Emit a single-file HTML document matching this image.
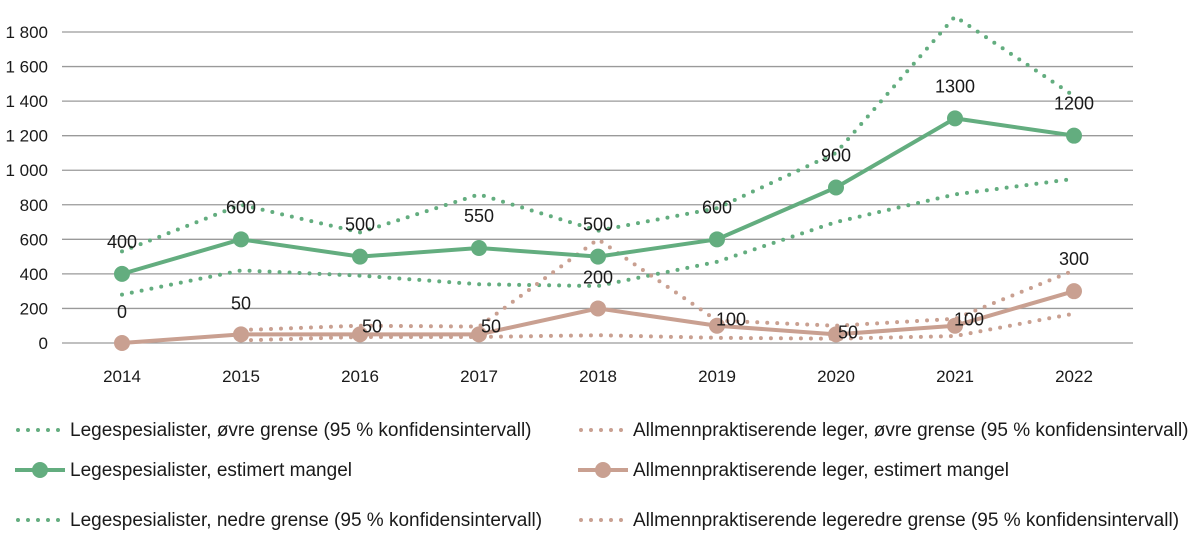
<!DOCTYPE html>
<html><head><meta charset="utf-8"><style>
body{margin:0;background:#fff;font-family:"Liberation Sans",sans-serif}
svg text{font-family:"Liberation Sans",sans-serif;fill:#1a1a1a}
</style></head><body>
<svg id="c" width="1200" height="546"></svg>
<script>
const years=[2014,2015,2016,2017,2018,2019,2020,2021,2022];
const yTicks=[0,200,400,600,800,1000,1200,1400,1600,1800];
const yTickLabels=["0","200","400","600","800","1 000","1 200","1 400","1 600","1 800"];
const specUpper=[530,800,640,860,650,780,1100,1890,1430];
const specEst=[400,600,500,550,500,600,900,1300,1200];
const specLower=[280,420,390,340,330,470,700,860,950];
const gpUpper=[null,75,100,95,600,130,100,140,420];
const gpEst=[0,50,50,50,200,100,50,100,300];
const gpLower=[null,15,35,35,45,30,25,40,170];
const specLabels=["400","600","500","550","500","600","900","1300","1200"];
const gpLabels=["0","50","50","50","200","100","50","100","300"];
const gpLabelDx=[0,0,12,12,0,14,12,14,0];
const gpLabelDy=[-31,-31,-8,-8,-31,-6,-2,-6,-32];
const G="#63ad7f",B="#c9a091";
const svg=document.getElementById('c');const NS="http://www.w3.org/2000/svg";
const x=i=>122+i*119;const y=v=>343-v*(311/1800);
function mk(t,a,p){const e=document.createElementNS(NS,t);for(const k in a)e.setAttribute(k,a[k]);(p||svg).appendChild(e);return e;}
yTicks.forEach((t,i)=>{
 const l=mk('line',{x1:62,x2:1133,y1:y(t),y2:y(t),stroke:'#9a9a9a','stroke-width':1.3});
 
 
 const tx=mk('text',{x:48,y:y(t)+6,'text-anchor':'end','font-size':17});tx.textContent=yTickLabels[i];
 
 
});
years.forEach((yr,i)=>{const t=mk('text',{x:x(i),y:382,'text-anchor':'middle','font-size':17});t.textContent=yr;
 
 });
function line(vals,col,dotted,name){
 const pts=[];vals.forEach((v,i)=>{if(v!==null)pts.push(x(i)+','+y(v));});
 const a={points:pts.join(' '),fill:'none',stroke:col};
 if(dotted){a['stroke-width']=4;a['stroke-dasharray']='0 10';a['stroke-linecap']='round';}else a['stroke-width']=4;
 const p=mk('polyline',a);
 
 
}
line(specUpper,G,true,'spec-upper-line');line(specLower,G,true,'spec-lower-line');
line(gpUpper,B,true,'gp-upper-line');line(gpLower,B,true,'gp-lower-line');
line(specEst,G,false,'spec-estimate-line');line(gpEst,B,false,'gp-estimate-line');
function markers(vals,col,labels,dx,dy,name){vals.forEach((v,i)=>{
 const c=mk('circle',{cx:x(i),cy:y(v),r:8,fill:col});
 
 
 const t=mk('text',{x:x(i)+(dx?dx[i]:0),y:y(v)+(dy?dy[i]:-32)+6,'text-anchor':'middle','font-size':18});t.textContent=labels[i];
 
 
});}
markers(specEst,G,specLabels,null,null,'spec');
markers(gpEst,B,gpLabels,gpLabelDx,gpLabelDy,'gp');
const leg=[
 [15,430,G,'dot','Legespesialister, øvre grense (95 % konfidensintervall)'],
 [15,470,G,'marker','Legespesialister, estimert mangel'],
 [15,520,G,'dot','Legespesialister, nedre grense (95 % konfidensintervall)'],
 [578,430,B,'dot','Allmennpraktiserende leger, øvre grense (95 % konfidensintervall)'],
 [578,470,B,'marker','Allmennpraktiserende leger, estimert mangel'],
 [578,520,B,'dot','Allmennpraktiserende legeredre grense (95 % konfidensintervall)']];
leg.forEach(l=>{
 const g=mk('g',{});
 
 
 if(l[3]==='dot')mk('line',{x1:l[0]+3,x2:l[0]+45,y1:l[1],y2:l[1],stroke:l[2],'stroke-width':4,'stroke-dasharray':'0 10','stroke-linecap':'round'},g);
 else{mk('line',{x1:l[0],x2:l[0]+50,y1:l[1],y2:l[1],stroke:l[2],'stroke-width':4},g);mk('circle',{cx:l[0]+25,cy:l[1],r:8,fill:l[2]},g);}
 const t=mk('text',{x:l[0]+55,y:l[1]+6,'font-size':19},g);t.textContent=l[4];
});
</script></body></html>
